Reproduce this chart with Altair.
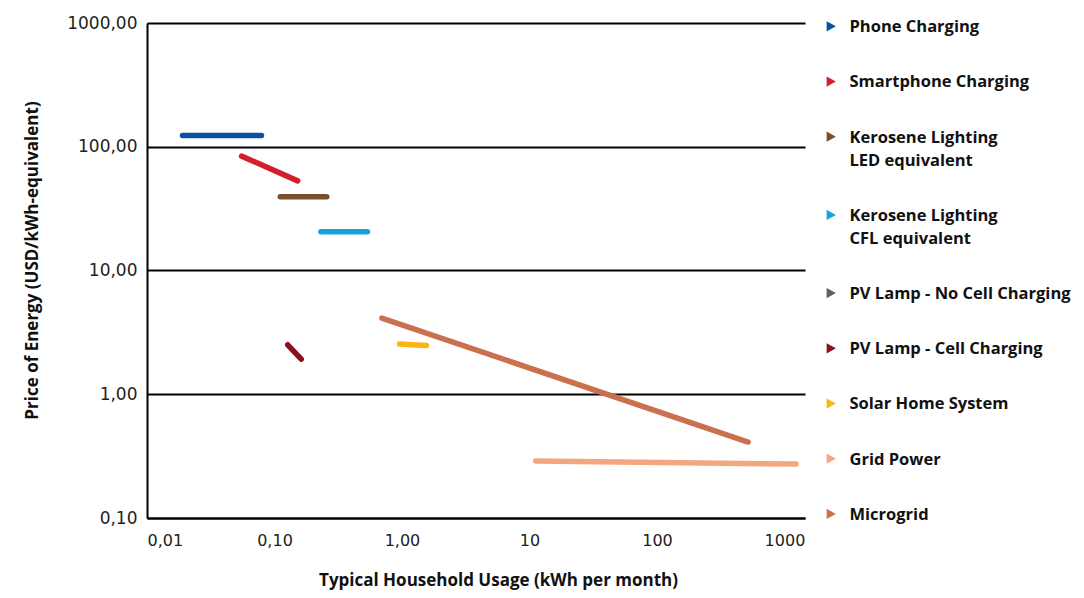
import altair as alt
import pandas as pd

series = [
    "Phone Charging",
    "Smartphone Charging",
    "Kerosene Lighting|LED equivalent",
    "Kerosene Lighting|CFL equivalent",
    "PV Lamp - No Cell Charging",
    "PV Lamp - Cell Charging",
    "Solar Home System",
    "Grid Power",
    "Microgrid",
]
colors = ["#0b4fa2", "#d1202c", "#7a4f2b", "#17a2dc", "#5e6062",
          "#8b0f1f", "#fbb616", "#f2a77e", "#c9714f"]

# segments: (series, x start, y start, x end, y end)
seg_series = ["Phone Charging", "Smartphone Charging", "Kerosene Lighting|LED equivalent",
              "Kerosene Lighting|CFL equivalent", "PV Lamp - Cell Charging",
              "Solar Home System", "Microgrid", "Grid Power"]
x_start = [0.019, 0.0552, 0.111, 0.231, 0.127, 0.955, 0.695, 11.2]
x_end = [0.079, 0.152, 0.257, 0.536, 0.162, 1.556, 519, 1231]
y_start = [123, 84, 39.5, 20.6, 2.51, 2.55, 4.13, 0.289]
y_end = [123, 53, 39.5, 20.6, 1.92, 2.48, 0.411, 0.273]

rows = []
for s, xa, ya, xb, yb in zip(seg_series, x_start, y_start, x_end, y_end):
    rows.append({"series": s, "usage": xa, "price": ya, "pt": 0})
    rows.append({"series": s, "usage": xb, "price": yb, "pt": 1})
df = pd.DataFrame(rows)

x_ticks = [0.01, 0.1, 1, 10, 100, 1000]
y_ticks = [0.1, 1, 10, 100, 1000]

tri = "M-0.95,0.4L0.95,1.45L-0.95,2.5Z"

color_scale = alt.Scale(domain=series, range=colors)
legend = alt.Legend(
    title=None, orient="none", legendX=676, legendY=-12,
    symbolType=tri, symbolSize=95, symbolStrokeWidth=0,
    labelFont="Open Sans", labelFontWeight="bold", labelFontSize=16.5,
    labelColor="#111111", labelBaseline="top",
    labelOffset=10, labelLimit=400, rowPadding=30.2, padding=0,
    labelExpr="split(datum.label, '|')",
)

chart = alt.Chart(df).mark_line(strokeWidth=5.5, strokeCap="round").encode(
    x=alt.X("usage:Q",
            scale=alt.Scale(type="log", domain=[0.01, 1449], nice=False),
            axis=alt.Axis(
                values=x_ticks, grid=False, ticks=False,
                domainColor="#000000", domainWidth=2,
                labelFont="DejaVu Sans", labelFontSize=16, labelColor="#222222",
                labelPadding=14,
                labelExpr="datum.value < 1.5 ? replace(format(datum.value, '.2f'), '.', ',') : format(datum.value, 'd')",
                title="Typical Household Usage (kWh per month)",
                titleFont="Open Sans", titleFontWeight="bold", titleFontSize=17,
                titleColor="#111111", titleX=351, titleY=67, titleBaseline="alphabetic",
            )),
    y=alt.Y("price:Q",
            scale=alt.Scale(type="log", domain=[0.1, 1000], nice=False),
            axis=alt.Axis(
                values=y_ticks, grid=True, gridColor="#000000", gridWidth=2, gridOpacity=1,
                ticks=False, domainColor="#000000", domainWidth=2,
                labelFont="DejaVu Sans", labelFontSize=17, labelColor="#222222",
                labelPadding=10,
                labelExpr="replace(format(datum.value, '.2f'), '.', ',')",
                title="Price of Energy (USD/kWh-equivalent)",
                titleFont="Open Sans", titleFontWeight="bold", titleFontSize=17,
                titleColor="#111111", titleX=-115, titleY=237, titleBaseline="middle",
            )),
    stroke=alt.Stroke("series:N", scale=color_scale, legend=legend),
    fill=alt.Fill("series:N", scale=color_scale, legend=legend),
    detail="series:N",
    order="pt:Q",
).properties(
    width=658, height=495,
    autosize=alt.AutoSizeParams(type="none"),
    padding={"left": 139, "top": 15, "right": 271, "bottom": 72},
).configure(
    view={"strokeOpacity": 0},
    style={"guide-label": {"lineHeight": 23}},
)

chart.save("out.html", embed_options={"renderer": "svg", "actions": False})
